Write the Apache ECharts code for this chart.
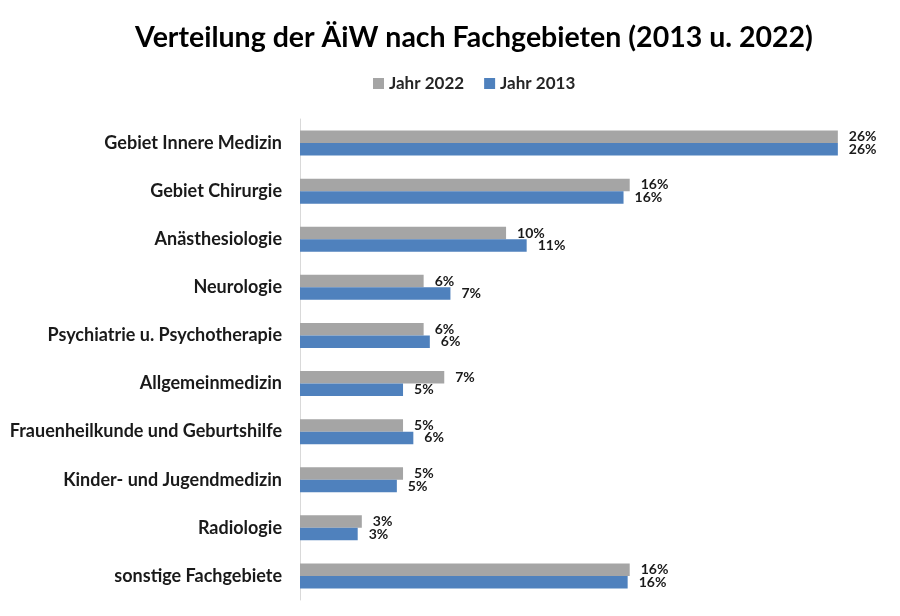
<!DOCTYPE html>
<html>
<head>
<meta charset="utf-8">
<script src="https://cdn.jsdelivr.net/npm/echarts@6/dist/echarts.min.js"></script>
<style>
  html, body { margin: 0; padding: 0; background: #fff; }
  #chart { width: 900px; height: 616px; }
</style>
</head>
<body>
<div id="chart"></div>
<script>
  // Fachgebiete, von oben nach unten
  var categories = [
    'Gebiet Innere Medizin',
    'Gebiet Chirurgie',
    'Anästhesiologie',
    'Neurologie',
    'Psychiatrie u. Psychotherapie',
    'Allgemeinmedizin',
    'Frauenheilkunde und Geburtshilfe',
    'Kinder- und Jugendmedizin',
    'Radiologie',
    'sonstige Fachgebiete'
  ];
  // Anteile in %
  var jahr2022 = [26.1, 16.0, 10.0, 6.0, 6.0, 7.0, 5.0, 5.0, 3.0, 16.0];
  var jahr2013 = [26.1, 15.7, 11.0, 7.3, 6.3, 5.0, 5.5, 4.7, 2.8, 15.9];
  var seriesNames = ['Jahr 2022', 'Jahr 2013'];

  var font = 'Lato';
  var labelStyle = {
    show: true,
    position: 'right',
    distance: 11,
    color: '#1a1a1a',
    fontFamily: font,
    fontWeight: 'bold',
    fontSize: 14,
    formatter: function (p) { return Math.round(p.value) + '%'; }
  };

  var chart = echarts.init(document.getElementById('chart'));
  chart.setOption({
    backgroundColor: '#fff',
    animation: false,
    title: {
      text: 'Verteilung der ÄiW nach Fachgebieten (2013 u. 2022)',
      left: 469,
      textAlign: 'center',
      top: 18,
      textStyle: {
        fontFamily: font,
        fontWeight: 'bold',
        fontSize: 28.5,
        color: '#000'
      }
    },
    legend: {
      data: seriesNames,
      left: 368,
      top: 70,
      itemWidth: 11,
      itemHeight: 11,
      itemGap: 20,
      icon: 'rect',
      textStyle: {
        fontFamily: font,
        fontWeight: 'bold',
        fontSize: 17,
        color: '#262626'
      }
    },
    grid: {
      left: 300,
      right: 23,
      top: 119,
      bottom: 16
    },
    xAxis: {
      type: 'value',
      min: 0,
      max: 28,
      show: false
    },
    yAxis: {
      type: 'category',
      inverse: true,
      data: categories,
      axisLine: { show: true, lineStyle: { color: '#d9d9d9', width: 1 } },
      axisTick: { show: false },
      axisLabel: {
        margin: 18,
        fontFamily: font,
        fontWeight: 'bold',
        fontSize: 18,
        color: '#1a1a1a'
      }
    },
    series: [
      {
        name: seriesNames[0],
        type: 'bar',
        data: jahr2022,
        barGap: '0%',
        barCategoryGap: '48%',
        itemStyle: { color: '#a5a5a5' },
        label: labelStyle
      },
      {
        name: seriesNames[1],
        type: 'bar',
        data: jahr2013,
        itemStyle: { color: '#4f81bd' },
        label: labelStyle
      }
    ]
  });
</script>
</body>
</html>
